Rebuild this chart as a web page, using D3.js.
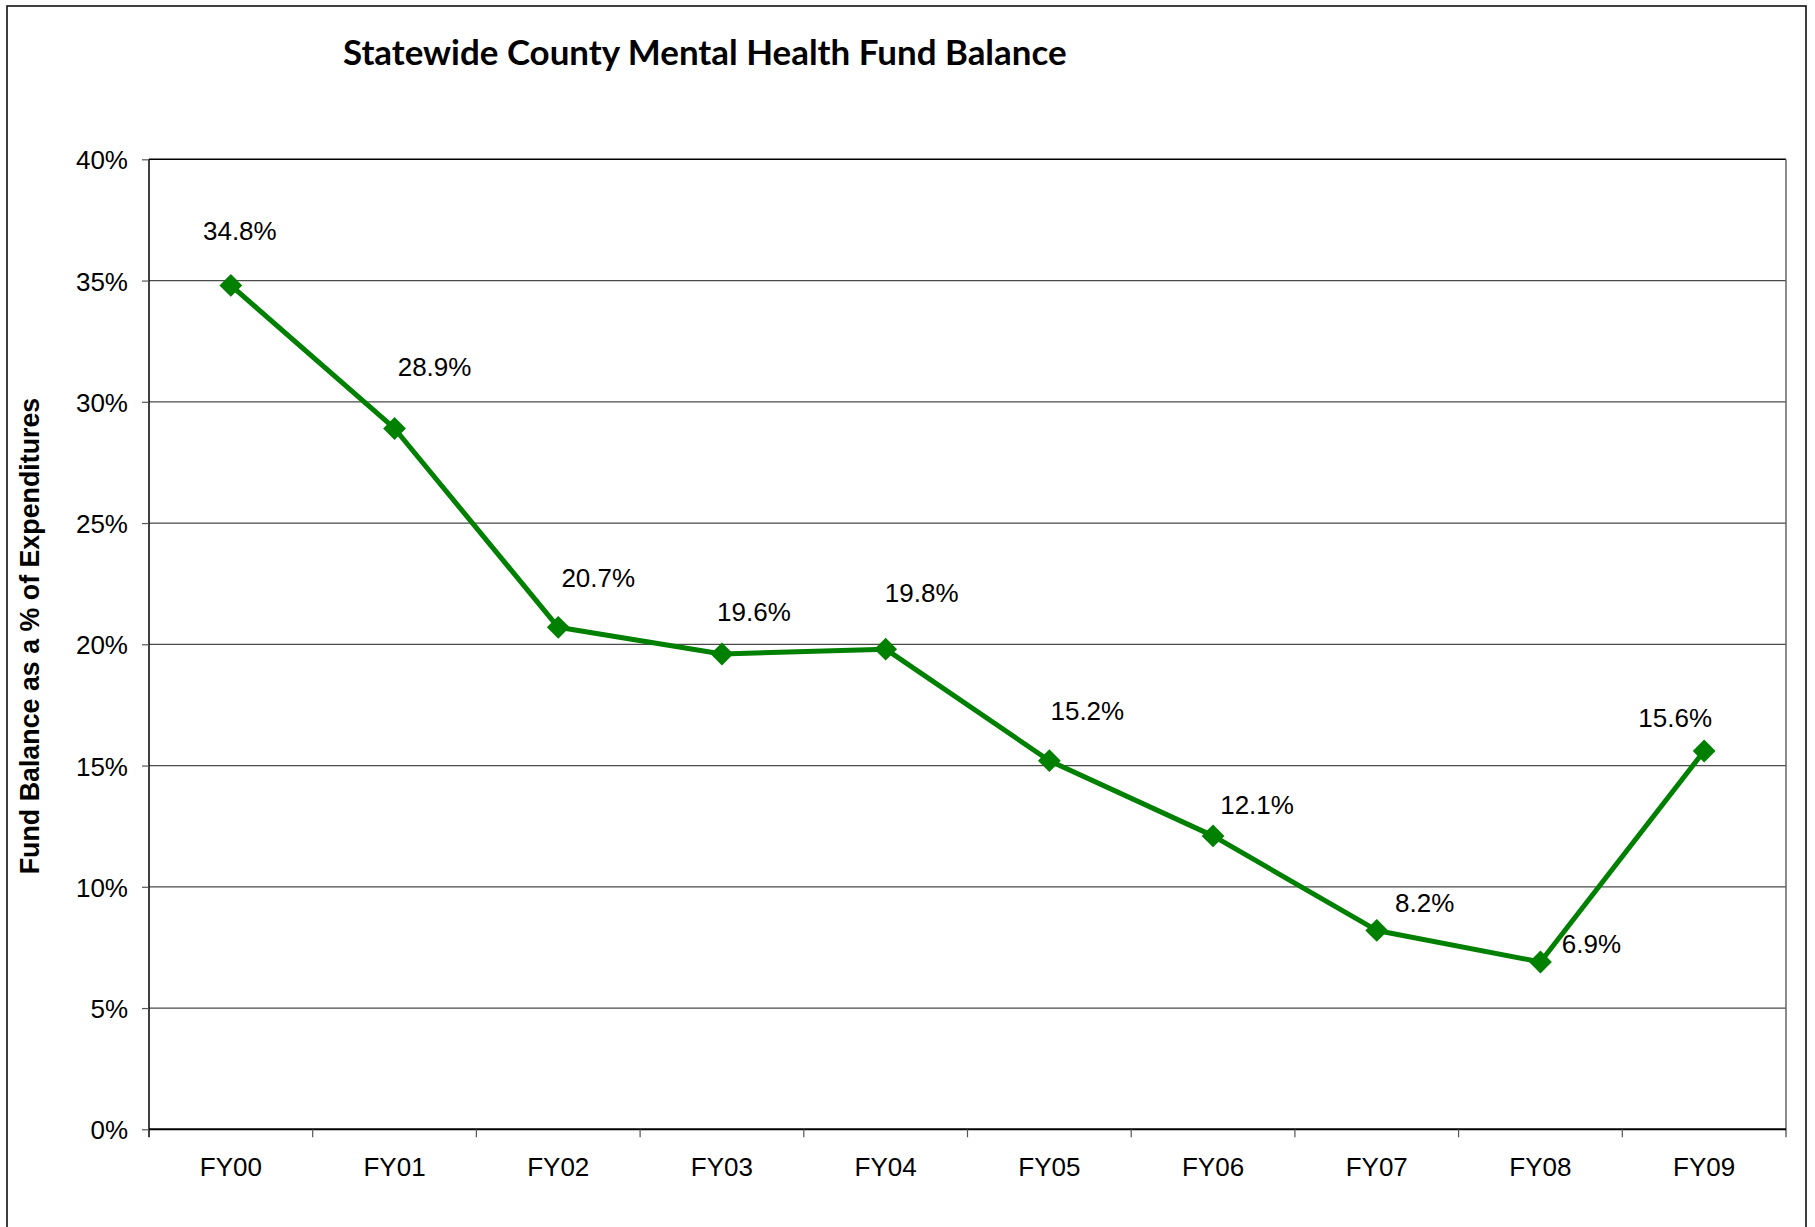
<!DOCTYPE html>
<html>
<head>
<meta charset="utf-8">
<script src="https://cdn.jsdelivr.net/npm/d3@7"></script>
<style>
  html, body { margin: 0; padding: 0; background: #fff; }
  svg { display: block; }
</style>
</head>
<body>
<svg id="chart" width="1815" height="1227"></svg>
<script>
// ---- data ----
const categories = ["FY00", "FY01", "FY02", "FY03", "FY04", "FY05", "FY06", "FY07", "FY08", "FY09"];
const fundBalance = [0.348, 0.289, 0.207, 0.196, 0.198, 0.152, 0.121, 0.082, 0.069, 0.156];
const yTickValues = [0, 0.05, 0.10, 0.15, 0.20, 0.25, 0.30, 0.35, 0.40];
const titleText = "Statewide County Mental Health Fund Balance";
const yAxisTitle = "Fund Balance as a % of Expenditures";
// manual data-label placement (offset from each marker, px)
const labelOffsets = [[9, -45], [40, -52], [40, -40], [32, -33], [36, -47], [38, -41], [44, -22], [48, -18], [51, -9], [-29, -24]];

// ---- layout ----
const plot = { left: 149, right: 1786, top: 159.3, bottom: 1129.3 };
const svg = d3.select("#chart");
const FONT = "'Liberation Sans', Arial, sans-serif";

// outer frame
svg.append("rect")
  .attr("x", 7).attr("y", 6).attr("width", 1799).attr("height", 1240)
  .attr("fill", "#fff").attr("stroke", "#000").attr("stroke-width", 1.5);

const x = d3.scaleBand().domain(categories).range([plot.left, plot.right]).padding(0);
const y = d3.scaleLinear().domain([0, 0.40]).range([plot.bottom, plot.top]);

// gridlines
svg.append("g").selectAll("line")
  .data(yTickValues.filter(d => d > 0 && d < 0.40))
  .join("line")
  .attr("x1", plot.left).attr("x2", plot.right)
  .attr("y1", d => y(d)).attr("y2", d => y(d))
  .attr("stroke", "#4a4a4a").attr("stroke-width", 1.2);

// plot border top/right
svg.append("line").attr("x1", plot.left).attr("x2", plot.right)
  .attr("y1", plot.top).attr("y2", plot.top).attr("stroke", "#000").attr("stroke-width", 1.5);
svg.append("line").attr("x1", plot.right).attr("x2", plot.right)
  .attr("y1", plot.top).attr("y2", plot.bottom + 8).attr("stroke", "#666").attr("stroke-width", 1.5);

// y axis
const yAxis = svg.append("g")
  .attr("transform", `translate(${plot.left},0)`)
  .call(d3.axisLeft(y).tickValues(yTickValues).tickFormat(d3.format(".0%")).tickSize(7).tickPadding(14));
yAxis.select(".domain").attr("stroke", "#000").attr("stroke-width", 1.5)
  .attr("d", `M0,${plot.top}V${plot.bottom + 8}`);
yAxis.selectAll(".tick line").attr("stroke", "#555").attr("stroke-width", 1.2);
yAxis.selectAll(".tick text")
  .attr("font-family", FONT).attr("font-size", 26).attr("fill", "#000").attr("dy", "0.37em");

// x axis labels
const xAxis = svg.append("g")
  .attr("transform", `translate(0,${plot.bottom})`)
  .call(d3.axisBottom(x).tickSize(0).tickPadding(28));
xAxis.select(".domain").attr("stroke", "#000").attr("stroke-width", 2)
  .attr("d", `M${plot.left},0H${plot.right}`);
xAxis.selectAll(".tick text")
  .attr("font-family", FONT).attr("font-size", 26).attr("fill", "#000");

// x boundary ticks
svg.append("g").selectAll("line")
  .data(categories.slice(1))
  .join("line")
  .attr("x1", d => x(d)).attr("x2", d => x(d))
  .attr("y1", plot.bottom).attr("y2", plot.bottom + 8)
  .attr("stroke", "#555").attr("stroke-width", 1.2);

// line
const cx = (d, i) => x(categories[i]) + x.bandwidth() / 2;
const line = d3.line().x((d, i) => cx(d, i)).y(d => y(d));
svg.append("path")
  .datum(fundBalance)
  .attr("d", line)
  .attr("fill", "none").attr("stroke", "#008000").attr("stroke-width", 5)
  .attr("stroke-linejoin", "round");

// markers
svg.append("g").selectAll("path")
  .data(fundBalance)
  .join("path")
  .attr("d", d3.symbol().type(d3.symbolSquare).size(260))
  .attr("transform", (d, i) => `translate(${cx(d, i)},${y(d)}) rotate(45)`)
  .attr("fill", "#008000");

// data labels
svg.append("g").selectAll("text")
  .data(fundBalance)
  .join("text")
  .attr("x", (d, i) => cx(d, i) + labelOffsets[i][0])
  .attr("y", (d, i) => y(d) + labelOffsets[i][1])
  .attr("text-anchor", "middle")
  .attr("font-family", FONT).attr("font-size", 26).attr("fill", "#000")
  .text(d => d3.format(".1%")(d));

// y axis title
svg.append("text")
  .attr("transform", "translate(39,636) rotate(-90)")
  .attr("text-anchor", "middle")
  .attr("font-family", FONT).attr("font-size", 26.8).attr("font-weight", "bold").attr("fill", "#000")
  .text(yAxisTitle);

// chart title (fit to measured width)
const title = svg.append("text")
  .attr("x", 343).attr("y", 65)
  .attr("font-family", "Lato, 'Open Sans', sans-serif").attr("font-weight", "bold")
  .attr("font-size", 30).attr("fill", "#000")
  .text(titleText);
const tw = title.node().getComputedTextLength();
title.attr("font-size", 30 * 724 / tw);
</script>
</body>
</html>
